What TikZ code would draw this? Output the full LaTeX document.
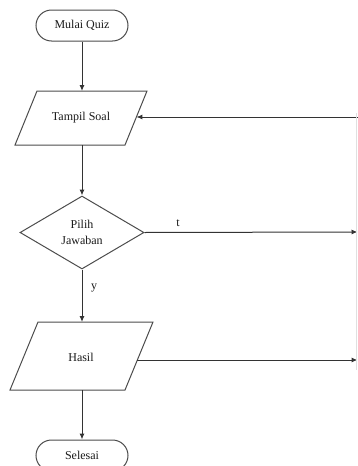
\documentclass[tikz,border=0pt]{standalone}
\usepackage{fontspec}
\setmainfont{Liberation Serif}
\usetikzlibrary{shapes.geometric,arrows.meta}
\begin{document}
\begin{tikzpicture}[x=1pt,y=-1pt, line width=1pt,
  txt/.style={font=\fontsize{12}{16}\selectfont, text=black!90},
  lbl/.style={txt, inner sep=0pt, align=center},
  term/.style={txt, draw=black!70, rounded corners=15.5pt, minimum width=92pt, minimum height=31pt, inner sep=0pt},
  decide/.style={txt, draw=black!70, diamond, minimum width=124pt, minimum height=73pt, inner sep=0pt, align=center},
  shapeline/.style={draw=black!70, line join=miter},
  flow/.style={draw=black!80, -{Latex[length=6pt,width=5pt]}},
  faint/.style={draw=black!12, line width=0.6pt}]
\useasboundingbox (0,0) rectangle (358,466);

% Start
\node[term] (mulai) at (82,25.5) {Mulai Quiz};

% Tampil Soal (parallelogram)
\draw[shapeline] (37,91) -- (147,91) -- (125,145) -- (15,145) -- cycle;
\node[lbl] (tampil) at (81,118) {Tampil Soal};
\coordinate (tampilN) at (82,91);
\coordinate (tampilS) at (82,145);
\coordinate (tampilE) at (136.4,117);

% Decision
\node[decide] (pilih) at (82,232.5) {Pilih\\Jawaban};

% Hasil (parallelogram)
\draw[shapeline] (38,322) -- (153,322) -- (125,390) -- (10,390) -- cycle;
\node[lbl] (hasil) at (81,357) {Hasil};
\coordinate (hasilN) at (82,322);
\coordinate (hasilS) at (82,390);
\coordinate (hasilE) at (137.4,360);

% End
\node[term] (selesai) at (82,455.5) {Selesai};

% Right-side coordinates
\coordinate (backIn) at (358,117);
\coordinate (tOut) at (357.5,232);
\coordinate (hOut) at (357.5,360);
\coordinate (vTop) at (356,113);
\coordinate (vBot) at (356,370);

% Connectors
\draw[flow] (mulai) -- (tampilN);
\draw[flow] (tampilS) -- (pilih.north);
\draw[flow] (pilih.south) -- (hasilN);
\draw[flow] (hasilS) -- (selesai);
\draw[flow] (pilih.east) -- (tOut);
\draw[flow] (hasilE) -- (hOut);
\draw[flow] (backIn) -- (tampilE);
\draw[faint] (vTop) -- (vBot);

% Labels
\node[lbl] (tlab) at (178,223) {t};
\node[lbl] (ylab) at (94,288) {y};
\end{tikzpicture}
\end{document}
